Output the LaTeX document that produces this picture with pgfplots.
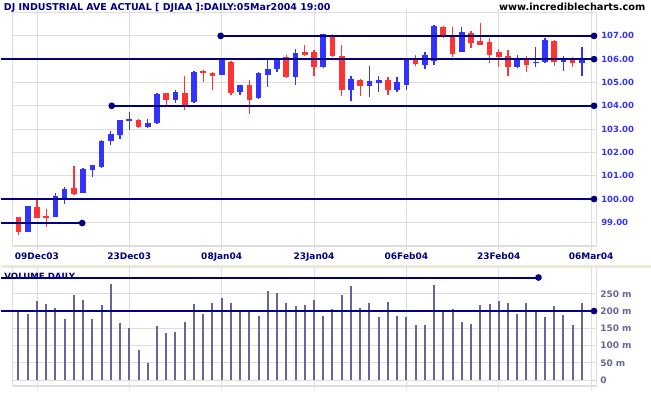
\documentclass[border=0pt]{standalone}
\usepackage{fontspec}
\setmainfont{DejaVu Sans}
\usepackage{pgfplots}
\pgfplotsset{compat=1.18}
\usepackage{pgfplotstable}

\definecolor{navy}{RGB}{0,0,128}
\definecolor{cblue}{RGB}{51,51,255}
\definecolor{cred}{RGB}{255,51,51}
\definecolor{vol}{RGB}{102,102,153}
\definecolor{gridc}{RGB}{221,221,221}
\definecolor{band}{RGB}{236,233,216}

% up (blue) candles: x o h l c
\pgfplotstableread{
x o h l c
-1 98.59 99.70 98.57 99.68
2 99.24 100.25 99.22 100.11
3 100.05 100.52 99.78 100.45
5 100.28 101.35 100.26 101.30
6 101.24 101.48 100.96 101.46
7 101.37 102.55 101.35 102.50
8 102.48 102.94 102.31 102.80
9 102.74 103.41 102.56 103.37
10 103.36 103.75 102.98 103.45
12 103.08 103.45 103.06 103.27
13 103.25 104.54 103.23 104.52
15 104.26 104.66 104.12 104.61
17 104.15 105.48 104.13 105.46
20 105.33 106.01 105.31 105.99
22 104.58 104.91 104.45 104.89
24 104.32 105.47 104.30 105.39
25 105.33 105.97 104.79 105.59
26 105.58 106.04 105.43 106.02
28 105.22 106.44 104.91 106.27
31 105.65 107.10 105.63 107.07
34 104.66 105.26 104.19 105.16
36 104.86 105.72 104.36 105.05
37 104.98 105.29 104.58 105.12
39 104.66 105.24 104.59 105.00
40 104.91 106.02 104.66 106.00
42 105.76 106.29 105.59 106.19
43 105.93 107.47 105.73 107.44
46 106.33 107.40 106.31 107.18
52 105.65 106.19 105.63 106.05
54 105.83 106.52 105.65 105.90
55 105.86 106.90 105.84 106.83
57 105.86 106.12 105.50 106.00
59 105.83 106.52 105.26 106.00
}\upcandles

% down (red) candles: x o h l c
\pgfplotstableread{
x o h l c
-2 99.22 99.25 98.47 98.59
0 99.68 100.03 99.17 99.19
1 99.27 99.56 98.82 99.20
4 100.49 101.41 100.19 100.21
11 103.41 103.42 103.06 103.08
14 104.55 104.57 104.05 104.24
16 104.55 105.29 103.84 104.05
18 105.50 105.52 105.00 105.39
19 105.41 105.43 104.69 105.26
21 105.90 105.92 104.48 104.56
23 104.91 105.12 103.65 104.24
27 106.09 106.19 105.19 105.24
29 106.32 106.62 106.12 106.20
30 106.32 106.40 105.26 105.65
32 107.04 107.06 106.10 106.12
33 106.12 106.62 104.41 104.69
35 105.12 105.14 104.41 104.86
38 105.12 105.24 104.48 104.69
41 106.00 106.19 105.69 105.79
44 107.40 107.42 106.92 106.94
45 107.04 107.40 106.09 106.22
47 107.11 107.21 106.50 106.71
48 106.79 107.57 106.60 106.62
49 106.76 106.90 105.83 106.19
50 106.29 106.43 105.65 106.09
51 106.15 106.40 105.26 105.65
53 106.00 106.12 105.43 105.76
56 106.79 106.81 105.72 105.90
58 106.00 106.09 105.65 105.83
}\downcandles

% daily volume (millions)
\pgfplotstableread{
x v
-2 201
-1 192
0 230
1 221
2 210
3 178
4 247
5 233
6 178
7 218
8 279
9 166
10 152
11 88
12 51
13 158
14 135
15 140
16 169
17 221
18 192
19 224
20 238
21 224
22 198
23 198
24 187
25 259
26 253
27 224
28 215
29 218
30 233
31 187
32 207
33 247
34 273
35 210
36 224
37 184
38 227
39 187
40 184
41 161
42 161
43 276
44 198
45 207
46 169
47 163
48 218
49 221
50 230
51 224
52 192
53 224
54 201
55 184
56 215
57 189
58 161
59 224
}\volumedata

% volume panel sits below the price panel in the same axis:
% price-axis position of volume v = 92.2284 + 0.014827*v
\begin{document}
\begin{tikzpicture}
\begin{axis}[
  scale only axis,
  width=584pt, height=233.4pt,
  xmin=-2.595, xmax=60.54, ymin=98, ymax=108, clip=false,
  axis line style={gridc, line width=1pt},
  grid=major, grid style={gridc, line width=0.8pt},
  xtick={0,10,20,30,40,50,60},
  xticklabels={09Dec03,23Dec03,08Jan04,23Jan04,06Feb04,23Feb04,06Mar04},
  xticklabel style={font=\bfseries\fontsize{9}{10}\selectfont, text=navy, anchor=north, inner sep=0pt, yshift=-2.7pt},
  tick align=outside, major tick length=4pt,
  xtick style={gridc, line width=0.8pt},
  ytick={99,100,...,107}, ytick style={draw=none},
  yticklabel pos=right,
  yticklabel={\pgfmathprintnumber[fixed,fixed zerofill,precision=2,assume math mode=true]{\tick}},
  yticklabel style={font=\bfseries\fontsize{8.5}{10}\selectfont, text=cblue, anchor=west, inner sep=0pt, xshift=1pt},
]
% picture frame (651 x 395)
\path (axis cs:-3.892,91.616) rectangle (axis cs:66.486,108.54);
% thicker bottom border of price panel
\draw[gridc, line width=2pt] (axis cs:-2.595,98) -- (axis cs:60.54,98);
% separator band
\fill[band] (axis cs:-3.892,97.036) rectangle (axis cs:66.486,97.186);
% volume panel frame and grid
\draw[gridc, line width=1pt] (axis cs:-2.595,97.057) -- (axis cs:-2.595,91.972);
\draw[gridc, line width=1pt] (axis cs:60.54,97.057) -- (axis cs:60.54,91.972);
\draw[gridc, line width=1.7pt] (axis cs:-2.595,91.972) -- (axis cs:60.54,91.972);
\draw[gridc, line width=0.8pt] (axis cs:-2.595,92.2284) -- (axis cs:60.54,92.2284);
\draw[gridc, line width=0.8pt] (axis cs:-2.595,92.970) -- (axis cs:60.54,92.970);
\draw[gridc, line width=0.8pt] (axis cs:-2.595,93.711) -- (axis cs:60.54,93.711);
\draw[gridc, line width=0.8pt] (axis cs:-2.595,94.453) -- (axis cs:60.54,94.453);
\draw[gridc, line width=0.8pt] (axis cs:-2.595,95.194) -- (axis cs:60.54,95.194);
\draw[gridc, line width=0.8pt] (axis cs:-2.595,95.935) -- (axis cs:60.54,95.935);
\pgfplotsinvokeforeach{0,10,20,30,40,50,60}{
  \draw[gridc, line width=0.8pt] (axis cs:#1,97.057) -- (axis cs:#1,91.801);
}
% texts
\node[anchor=base west, inner sep=0pt, text=navy, font=\bfseries\fontsize{9.5}{11}\selectfont] at (axis cs:-3.600,108.081) {DJ INDUSTRIAL AVE ACTUAL [ DJIAA ]:DAILY:05Mar2004 19:00};
\node[anchor=base east, inner sep=0pt, font=\bfseries\fontsize{9.8}{11}\selectfont] at (axis cs:65.892,108.081) {www.incrediblecharts.com};
\node[anchor=base west, inner sep=0pt, text=navy, font=\bfseries\fontsize{8.6}{10}\selectfont] at (axis cs:-3.536,96.543) {VOLUME DAILY};
% volume tick labels
\node[anchor=west, inner sep=0pt, xshift=4pt, text=vol, font=\bfseries\fontsize{9}{10}\selectfont] at (axis cs:60.54,92.2284) {0};
\node[anchor=west, inner sep=0pt, xshift=4pt, text=vol, font=\bfseries\fontsize{9}{10}\selectfont] at (axis cs:60.54,92.970) {50 m};
\node[anchor=west, inner sep=0pt, xshift=4pt, text=vol, font=\bfseries\fontsize{9}{10}\selectfont] at (axis cs:60.54,93.711) {100 m};
\node[anchor=west, inner sep=0pt, xshift=4pt, text=vol, font=\bfseries\fontsize{9}{10}\selectfont] at (axis cs:60.54,94.453) {150 m};
\node[anchor=west, inner sep=0pt, xshift=4pt, text=vol, font=\bfseries\fontsize{9}{10}\selectfont] at (axis cs:60.54,95.194) {200 m};
\node[anchor=west, inner sep=0pt, xshift=4pt, text=vol, font=\bfseries\fontsize{9}{10}\selectfont] at (axis cs:60.54,95.935) {250 m};

% candle wicks
\addplot[draw=none, mark=none, forget plot,
  error bars/.cd, y dir=both, y explicit, error mark=none,
  error bar style={draw=cblue, line width=1.3pt}]
  table[x=x, y expr={(\thisrow{h}+\thisrow{l})/2}, y error expr={(\thisrow{h}-\thisrow{l})/2}] {\upcandles};
\addplot[draw=none, mark=none, forget plot,
  error bars/.cd, y dir=both, y explicit, error mark=none,
  error bar style={draw=cred, line width=1.3pt}]
  table[x=x, y expr={(\thisrow{h}+\thisrow{l})/2}, y error expr={(\thisrow{h}-\thisrow{l})/2}] {\downcandles};
% candle bodies
\addplot[draw=none, mark=none, forget plot,
  error bars/.cd, y dir=both, y explicit, error mark=none,
  error bar style={draw=cblue, line width=5.7pt}]
  table[x=x, y expr={(\thisrow{o}+\thisrow{c})/2}, y error expr={abs(\thisrow{c}-\thisrow{o})/2}] {\upcandles};
\addplot[draw=none, mark=none, forget plot,
  error bars/.cd, y dir=both, y explicit, error mark=none,
  error bar style={draw=cred, line width=5.7pt}]
  table[x=x, y expr={(\thisrow{o}+\thisrow{c})/2}, y error expr={abs(\thisrow{c}-\thisrow{o})/2}] {\downcandles};
% support / resistance lines (price)
\addplot[navy, line width=2pt, mark=*, mark size=2.3pt, mark options={fill=navy, draw=navy}, mark indices={2}] coordinates {(-3.89,106) (60.32,106)};
\addplot[navy, line width=2pt, mark=*, mark size=2.3pt, mark options={fill=navy, draw=navy}, mark indices={2}] coordinates {(-3.89,100) (60.32,100)};
\addplot[navy, line width=2pt, mark=*, mark size=2.3pt, mark options={fill=navy, draw=navy}] coordinates {(19.9,107) (60.32,107)};
\addplot[navy, line width=2pt, mark=*, mark size=2.3pt, mark options={fill=navy, draw=navy}] coordinates {(8.1,104) (60.32,104)};
\addplot[navy, line width=2pt, mark=*, mark size=2.3pt, mark options={fill=navy, draw=navy}, mark indices={2}] coordinates {(-3.89,98.97) (4.9,98.97)};

% volume bars
\addplot[draw=none, mark=none, forget plot,
  error bars/.cd, y dir=both, y explicit, error mark=none,
  error bar style={draw=vol, line width=2pt}]
  table[x=x, y expr={92.2284+0.0074135*\thisrow{v}}, y error expr={0.0074135*\thisrow{v}}] {\volumedata};
% volume lines
\addplot[navy, line width=2pt, mark=*, mark size=2.3pt, mark options={fill=navy, draw=navy}, mark indices={2}, y filter/.expression={92.2284+0.014827*y}] coordinates {(-3.89,200) (60.32,200)};
\addplot[navy, line width=2pt, mark=*, mark size=2.3pt, mark options={fill=navy, draw=navy}, mark indices={2}, y filter/.expression={92.2284+0.014827*y}] coordinates {(-3.89,297) (54.3,297)};
\end{axis}
\end{tikzpicture}
\end{document}
